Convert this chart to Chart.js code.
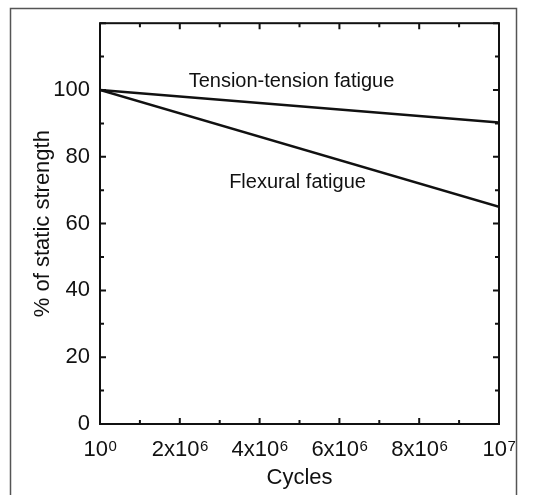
<!DOCTYPE html>
<html>
<head>
<meta charset="utf-8">
<script src="https://cdn.jsdelivr.net/npm/chart.js@4"></script>
<style>
html,body{margin:0;padding:0;background:#fff;}
#wrap{position:relative;width:534px;height:495px;}
</style>
</head>
<body>
<div id="wrap"><canvas id="c" width="534" height="495"></canvas></div>
<script>
// ---- data ----
const cycles = [0, 10000000];
const tensionTension = [100, 90.3];
const flexural = [100, 65];
const xTickValues = [0, 2000000, 4000000, 6000000, 8000000, 10000000];
const xTickBase = ['10', '2x10', '4x10', '6x10', '8x10', '10'];
const xTickExp = ['0', '6', '6', '6', '6', '7'];
const yTickLabels = ['0', '20', '40', '60', '80', '100'];
const annotations = [
  {text: 'Tension-tension fatigue', x: 4800000, y: 102.5},
  {text: 'Flexural fatigue', x: 4950000, y: 72.2}
];

const FONT = '"Liberation Sans", Arial, sans-serif';

const framePlugin = {
  id: 'frame',
  beforeDraw(chart) {
    const ctx = chart.ctx;
    ctx.save();
    ctx.strokeStyle = '#555';
    ctx.lineWidth = 1.5;
    ctx.strokeRect(10.5, 8.5, 506, 600);
    ctx.restore();
  },
  afterDatasetsDraw(chart) {
    const ctx = chart.ctx;
    const a = chart.chartArea;
    const xs = chart.scales.x, ys = chart.scales.y;
    ctx.save();
    ctx.strokeStyle = '#111';
    ctx.lineWidth = 2;
    ctx.strokeRect(a.left, a.top, a.right - a.left, a.bottom - a.top);
    // x ticks (major every 2e6, minor every 1e6), inward, bottom and top
    for (let v = 0; v <= 10000000; v += 1000000) {
      const px = xs.getPixelForValue(v);
      const len = (v % 2000000 === 0) ? 6 : 4;
      ctx.beginPath();
      ctx.moveTo(px, a.bottom); ctx.lineTo(px, a.bottom - len);
      ctx.moveTo(px, a.top); ctx.lineTo(px, a.top + len);
      ctx.stroke();
    }
    for (let v = 0; v <= 120; v += 10) {
      const py = ys.getPixelForValue(v);
      const len = (v % 20 === 0) ? 6 : 4;
      ctx.beginPath();
      ctx.moveTo(a.left, py); ctx.lineTo(a.left + len, py);
      ctx.moveTo(a.right, py); ctx.lineTo(a.right - len, py);
      ctx.stroke();
    }
    // x tick labels with superscript exponents
    ctx.fillStyle = '#111';
    ctx.textBaseline = 'alphabetic';
    ctx.textAlign = 'left';
    const baseFont = '22px ' + FONT, supFont = '15px ' + FONT;
    const baseY = a.bottom + 32;
    xTickValues.forEach((v, i) => {
      ctx.font = baseFont;
      const wb = ctx.measureText(xTickBase[i]).width;
      ctx.font = supFont;
      const ws = ctx.measureText(xTickExp[i]).width;
      const px = xs.getPixelForValue(v);
      const x0 = px - (wb + ws) / 2;
      ctx.font = baseFont;
      ctx.fillText(xTickBase[i], x0, baseY);
      ctx.font = supFont;
      ctx.fillText(xTickExp[i], x0 + wb + 0.5, baseY - 5);
    });
    // annotations
    ctx.font = '20px ' + FONT;
    ctx.textAlign = 'center';
    ctx.textBaseline = 'middle';
    annotations.forEach(an => {
      ctx.fillText(an.text, xs.getPixelForValue(an.x), ys.getPixelForValue(an.y));
    });
    ctx.restore();
  }
};

new Chart(document.getElementById('c'), {
  type: 'line',
  data: {
    datasets: [
      {label: 'Tension-tension fatigue', data: cycles.map((x, i) => ({x, y: tensionTension[i]})),
       borderColor: '#111', borderWidth: 2.5, pointRadius: 0, fill: false, tension: 0},
      {label: 'Flexural fatigue', data: cycles.map((x, i) => ({x, y: flexural[i]})),
       borderColor: '#111', borderWidth: 2.5, pointRadius: 0, fill: false, tension: 0}
    ]
  },
  options: {
    responsive: false,
    animation: false,
    devicePixelRatio: 1,
    layout: {padding: {top: 22, right: 35, left: 30, bottom: 0}},
    plugins: {legend: {display: false}, tooltip: {enabled: false}},
    scales: {
      x: {
        type: 'linear', min: 0, max: 10000000,
        afterBuildTicks(scale) { scale.ticks = xTickValues.map(v => ({value: v})); },
        afterFit(scale) { scale.height = 71; },
        grid: {display: false, drawTicks: false},
        border: {display: false},
        ticks: {display: false},
        title: {display: true, text: 'Cycles', color: '#111', font: {size: 22, family: FONT}, padding: {top: 0, bottom: 4}}
      },
      y: {
        type: 'linear', min: 0, max: 120,
        afterBuildTicks(scale) { scale.ticks = yTickLabels.map(v => ({value: Number(v)})); },
        afterFit(scale) { scale.width = 70; },
        grid: {display: false, drawTicks: false},
        border: {display: false},
        ticks: {
          padding: 10, color: '#111',
          font: {size: 22, family: FONT},
          callback: (v) => String(v)
        },
        title: {display: true, text: '% of static strength', color: '#111', font: {size: 22, family: FONT}, padding: {top: 0, bottom: 4}}
      }
    }
  },
  plugins: [framePlugin]
});
</script>
</body>
</html>
